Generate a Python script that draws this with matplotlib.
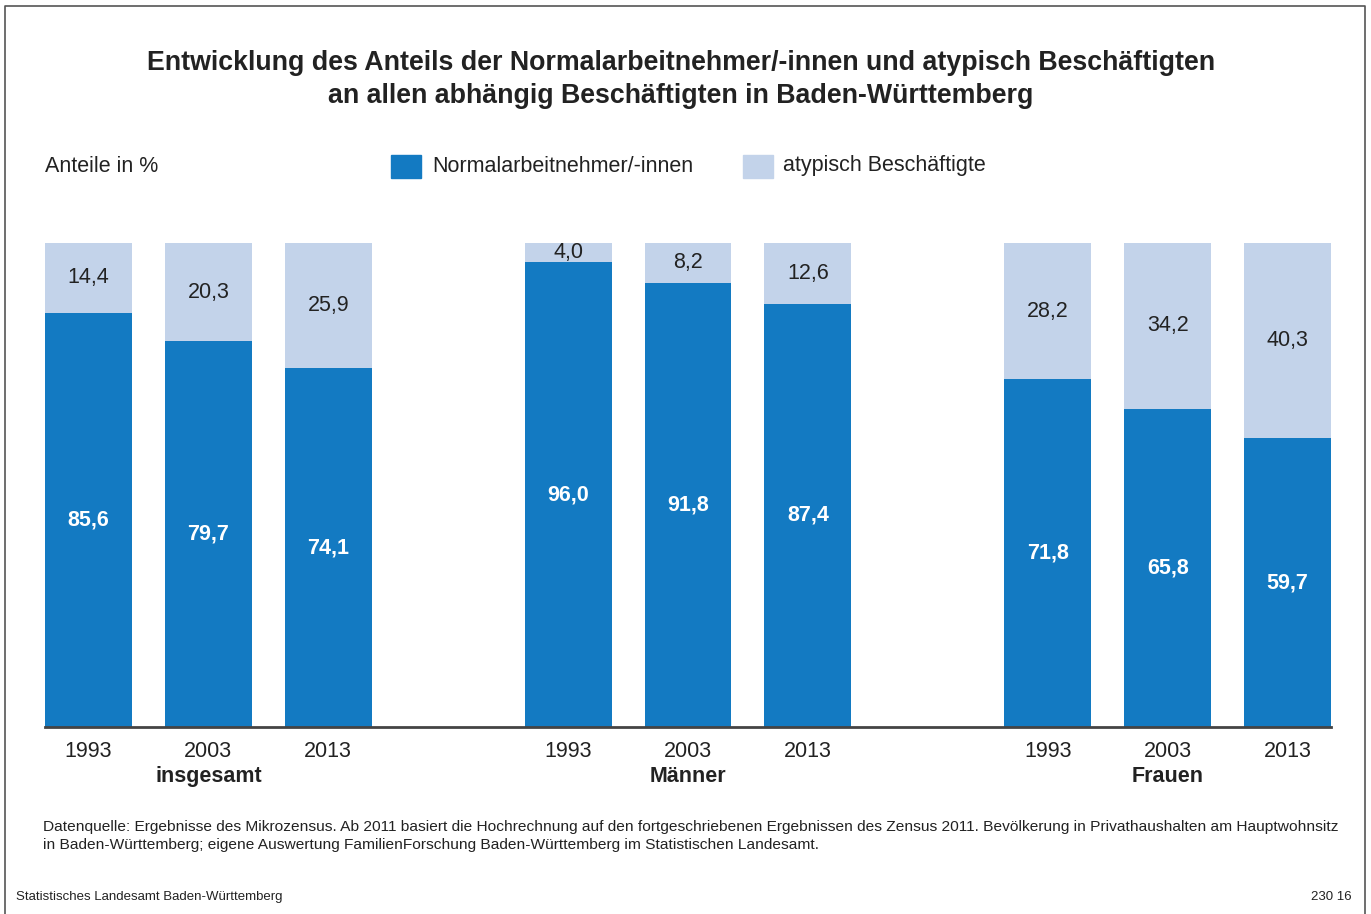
import matplotlib
matplotlib.use("Agg")
import matplotlib.pyplot as plt
from matplotlib import font_manager as fm
from matplotlib.patches import Rectangle
from matplotlib.lines import Line2D

names = {f.name for f in fm.fontManager.ttflist}
FONT = "Liberation Sans Narrow" if "Liberation Sans Narrow" in names else "Liberation Sans"
plt.rcParams["font.family"] = [FONT, "DejaVu Sans"]

# ---- data ----
groups = ["insgesamt", "Männer", "Frauen"]
years = ["1993", "2003", "2013"]
normal = [85.6, 79.7, 74.1, 96.0, 91.8, 87.4, 71.8, 65.8, 59.7]
atypisch = [14.4, 20.3, 25.9, 4.0, 8.2, 12.6, 28.2, 34.2, 40.3]
positions = [0, 1, 2, 4, 5, 6, 8, 9, 10]

C_DARK = "#137ac2"
C_LIGHT = "#c3d3ea"
C_TEXT = "#222222"

W, H = 1371, 914
fig = plt.figure(figsize=(W / 100, H / 100), dpi=100)

def fx(px):
    return px / W

def fy(py):
    return 1 - py / H

ax = fig.add_axes([fx(45), fy(727), fx(1331) - fx(45), fy(243) - fy(727)])
bw = 0.725
ax.bar(positions, normal, width=bw, color=C_DARK, linewidth=0)
ax.bar(positions, atypisch, bottom=normal, width=bw, color=C_LIGHT, linewidth=0)
ax.set_xlim(-bw / 2, 10 + bw / 2)
ax.set_ylim(0, 100)
for s in ["top", "right", "left"]:
    ax.spines[s].set_visible(False)
ax.spines["bottom"].set_color("#444444")
ax.spines["bottom"].set_linewidth(2)
ax.set_yticks([])
ax.set_xticks(positions)
ax.set_xticklabels(years * 3, fontsize=15.5, color=C_TEXT)
ax.tick_params(axis="x", length=0, pad=10)

for p, n, a in zip(positions, normal, atypisch):
    ax.text(p, n / 2, f"{n:.1f}".replace(".", ","), ha="center", va="center",
            color="white", fontsize=15.5, fontweight="bold")
    ax.text(p, n + a / 2, f"{a:.1f}".replace(".", ","), ha="center", va="center",
            color=C_TEXT, fontsize=15.5)

for i, g in enumerate(groups):
    ax.text(positions[i * 3 + 1], -0.08, g, transform=ax.get_xaxis_transform(),
            ha="center", va="top", fontsize=15.5, fontweight="bold", color=C_TEXT)

# title
fig.text(fx(681), fy(63), "Entwicklung des Anteils der Normalarbeitnehmer/-innen und atypisch Beschäftigten",
         ha="center", va="center", fontsize=19.3, fontweight="bold", color=C_TEXT)
fig.text(fx(681), fy(96), "an allen abhängig Beschäftigten in Baden-Württemberg",
         ha="center", va="center", fontsize=19.3, fontweight="bold", color=C_TEXT)

fig.text(fx(45), fy(166), "Anteile in %", ha="left", va="center", fontsize=15.5, color=C_TEXT)

# legend
fig.patches.append(Rectangle((fx(391), fy(178)), fx(30), 23 / H, color=C_DARK,
                             transform=fig.transFigure, figure=fig))
fig.text(fx(432), fy(166), "Normalarbeitnehmer/-innen", ha="left", va="center",
         fontsize=15.5, color=C_TEXT)
fig.patches.append(Rectangle((fx(743), fy(178)), fx(30), 23 / H, color=C_LIGHT,
                             transform=fig.transFigure, figure=fig))
fig.text(fx(783), fy(166), "atypisch Beschäftigte", ha="left", va="center",
         fontsize=15.5, color=C_TEXT)

# footnote
fig.text(fx(43), fy(827), "Datenquelle: Ergebnisse des Mikrozensus. Ab 2011 basiert die Hochrechnung auf den fortgeschriebenen "
         "Ergebnissen des Zensus 2011. Bevölkerung in Privathaushalten am Hauptwohnsitz",
         ha="left", va="center", fontsize=11.15, color=C_TEXT)
fig.text(fx(43), fy(845), "in Baden-Württemberg; eigene Auswertung FamilienForschung Baden-Württemberg im Statistischen Landesamt.",
         ha="left", va="center", fontsize=11.15, color=C_TEXT)

fig.text(fx(16), fy(897), "Statistisches Landesamt Baden-Württemberg", ha="left", va="center",
         fontsize=9.5, color=C_TEXT)
fig.text(fx(1352), fy(897), "230 16", ha="right", va="center", fontsize=9.5, color=C_TEXT)

# frame
fig.lines.append(Line2D([fx(4.5), fx(4.5), fx(1364.5), fx(1364.5)], [0, fy(5.5), fy(5.5), 0],
                        transform=fig.transFigure, color="#555555", linewidth=1.2, figure=fig))

fig.savefig("out.png", dpi=100, facecolor="white")
